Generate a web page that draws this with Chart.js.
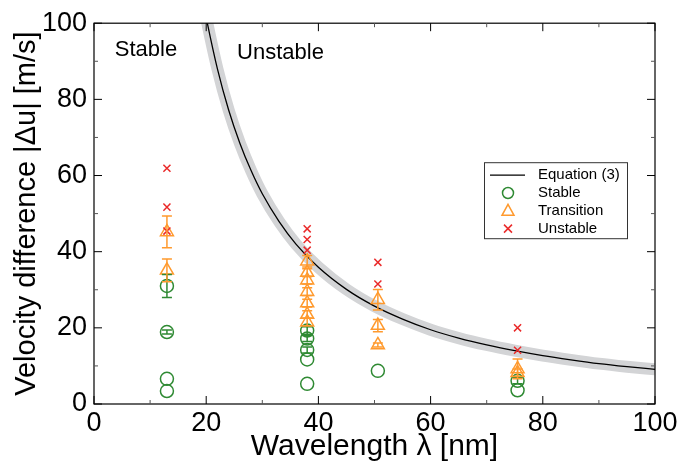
<!DOCTYPE html>
<html>
<head>
<meta charset="utf-8">
<script src="https://cdn.jsdelivr.net/npm/chart.js@4.4.1/dist/chart.umd.min.js"></script>
<style>
  html, body { margin: 0; padding: 0; background: #fff; }
</style>
</head>
<body>
<canvas id="chart" width="697" height="465"></canvas>
<script>
// Equation (3) curve
const curveX = [19.8, 20.2, 22, 24, 26, 28, 30, 33, 36, 40, 45, 50, 55, 60, 65, 70, 75, 80, 85, 90, 95, 100];
const curveY = [103, 100, 88, 77.2, 68.5, 61.3, 55.2, 47.9, 42, 35.9, 30.1, 25.7, 22.3, 19.5, 17.3, 15.5, 14, 12.7, 11.6, 10.6, 9.8, 9.1];

// Stable points
const stableX = [13, 13, 13, 13, 38, 38, 38, 38, 38, 50.6, 75.5, 75.5];
const stableY = [31, 18.9, 6.6, 3.4, 19.3, 17.2, 14.2, 11.7, 5.3, 8.7, 6.1, 3.6];
const stableErr = [3, 0.5, 0, 0, 1, 0.8, 0.8, 0, 0, 0, 0.8, 0];

// Transition points
const transX = [13, 13, 38, 38, 38, 38, 38, 38, 38, 50.6, 50.6, 50.6, 75.5, 75.5];
const transY = [45.2, 35.1, 37.5, 34.5, 32.5, 29.5, 26.5, 23.5, 21.5, 27.4, 20.6, 15.5, 9.2, 8.2];
const transErr = [4.2, 3, 1.5, 1, 1, 1, 1, 1, 1, 2.7, 1.6, 0.5, 2.6, 1];

// Unstable points
const unstX = [13, 13, 13, 38, 38, 38, 50.6, 50.6, 75.5, 75.5];
const unstY = [61.9, 51.7, 45.4, 46.0, 43.2, 40.4, 37.2, 31.5, 20.0, 14.1];

const FONT = "'Liberation Sans', Arial, sans-serif";
const GREEN = "#2f8a33";
const ORANGE = "#ff9a2e";
const RED = "#ea2a2a";

const pts = (xs, ys) => xs.map((x, i) => ({ x: x, y: ys[i] }));

// vertical error bars with caps
const errorBars = {
  id: "errorBars",
  afterDatasetsDraw(chart) {
    const { ctx, scales: { x, y } } = chart;
    ctx.save();
    chart.data.datasets.forEach(ds => {
      if (!ds.errors) return;
      ctx.strokeStyle = ds.borderColor;
      ctx.lineWidth = 1.5;
      ds.data.forEach((p, i) => {
        const e = ds.errors[i];
        if (!e) return;
        const px = x.getPixelForValue(p.x);
        const top = y.getPixelForValue(p.y + e);
        const bot = y.getPixelForValue(p.y - e);
        ctx.beginPath();
        ctx.moveTo(px, top); ctx.lineTo(px, bot);
        ctx.moveTo(px - 5, top); ctx.lineTo(px + 5, top);
        ctx.moveTo(px - 5, bot); ctx.lineTo(px + 5, bot);
        ctx.stroke();
      });
    });
    ctx.restore();
  }
};

// box frame with inward ticks on all four sides
const frame = {
  id: "frame",
  afterDraw(chart) {
    const { ctx, chartArea: a, scales: { x, y } } = chart;
    ctx.save();
    ctx.strokeStyle = "#000";
    ctx.lineWidth = 1.2;
    ctx.strokeRect(a.left, a.top, a.right - a.left, a.bottom - a.top);
    ctx.lineWidth = 1;
    for (let v = 0; v <= 100; v += 10) {
      const len = v % 20 === 0 ? 8 : 4;
      ctx.strokeStyle = v % 20 === 0 ? "#000" : "#555";
      const px = x.getPixelForValue(v);
      const py = y.getPixelForValue(v);
      ctx.beginPath();
      ctx.moveTo(px, a.bottom); ctx.lineTo(px, a.bottom - len);
      ctx.moveTo(px, a.top); ctx.lineTo(px, a.top + len);
      ctx.moveTo(a.left, py); ctx.lineTo(a.left + len, py);
      ctx.moveTo(a.right, py); ctx.lineTo(a.right - len, py);
      ctx.stroke();
    }
    ctx.restore();
  }
};

// region labels
const regionLabels = [
  { text: "Stable", x: 3.7, y: 93 },
  { text: "Unstable", x: 25.5, y: 92.2 }
];
const regions = {
  id: "regions",
  afterDraw(chart) {
    const { ctx, scales: { x, y } } = chart;
    ctx.save();
    ctx.fillStyle = "#000";
    ctx.font = "22px " + FONT;
    ctx.textBaseline = "middle";
    regionLabels.forEach(l => ctx.fillText(l.text, x.getPixelForValue(l.x), y.getPixelForValue(l.y)));
    ctx.restore();
  }
};

function drawMarker(ctx, style, cx, cy, color) {
  ctx.strokeStyle = color;
  ctx.lineWidth = 1.5;
  ctx.beginPath();
  if (style === "circle") {
    ctx.arc(cx, cy, 5.5, 0, Math.PI * 2);
  } else if (style === "triangle") {
    ctx.moveTo(cx, cy - 6.5); ctx.lineTo(cx + 6, cy + 4.5); ctx.lineTo(cx - 6, cy + 4.5); ctx.closePath();
  } else if (style === "crossRot") {
    ctx.moveTo(cx - 4, cy - 4); ctx.lineTo(cx + 4, cy + 4);
    ctx.moveTo(cx + 4, cy - 4); ctx.lineTo(cx - 4, cy + 4);
  }
  ctx.stroke();
}

// boxed legend inside the plot
const boxLegend = {
  id: "boxLegend",
  afterDraw(chart) {
    const { ctx, chartArea: a } = chart;
    const left = a.right - 171, top = a.top + 139, w = 143, h = 76;
    ctx.save();
    ctx.fillStyle = "#fff";
    ctx.fillRect(left, top, w, h);
    ctx.strokeStyle = "#333";
    ctx.lineWidth = 1;
    ctx.strokeRect(left + 0.5, top + 0.5, w, h);
    ctx.font = "15px " + FONT;
    ctx.textBaseline = "middle";
    const items = chart.data.datasets.filter(d => d.legendRank !== undefined)
      .sort((p, q) => p.legendRank - q.legendRank);
    items.forEach((d, i) => {
      const cy = top + 13 + i * 17.8;
      if (d.showLine) {
        ctx.strokeStyle = "#000";
        ctx.lineWidth = 1.2;
        ctx.beginPath(); ctx.moveTo(left + 6, cy); ctx.lineTo(left + 41, cy); ctx.stroke();
      } else {
        drawMarker(ctx, d.pointStyle, left + 24, cy, d.borderColor);
      }
      ctx.fillStyle = "#000";
      ctx.fillText(d.label, left + 54, cy);
    });
    ctx.restore();
  }
};

new Chart(document.getElementById("chart"), {
  type: "scatter",
  data: {
    datasets: [
      {
        label: "Equation (3)", data: pts(curveX, curveY), legendRank: 0, order: 3,
        showLine: true, borderColor: "#000", borderWidth: 1.3, pointRadius: 0,
        tension: 0.4, cubicInterpolationMode: "monotone"
      },
      {
        label: "Stable", data: pts(stableX, stableY), errors: stableErr, legendRank: 1, order: 2,
        pointStyle: "circle", pointRadius: 6.5, borderColor: GREEN, borderWidth: 1.5,
        backgroundColor: "transparent", showLine: false
      },
      {
        label: "Transition", data: pts(transX, transY), errors: transErr, legendRank: 2, order: 1,
        pointStyle: "triangle", pointRadius: 7.5, borderColor: ORANGE, borderWidth: 1.5,
        backgroundColor: "transparent", showLine: false
      },
      {
        label: "Unstable", data: pts(unstX, unstY), legendRank: 3, order: 0,
        pointStyle: "crossRot", pointRadius: 5, borderColor: RED, borderWidth: 1.5,
        backgroundColor: "transparent", showLine: false
      },
      {
        label: "band", data: pts(curveX, curveY), order: 4,
        showLine: true, borderColor: "#d3d4d6", borderWidth: 12, pointRadius: 0,
        tension: 0.4, cubicInterpolationMode: "monotone"
      }
    ]
  },
  options: {
    responsive: false,
    animation: false,
    layout: { padding: { left: 0, top: 13, right: 42, bottom: 0 } },
    plugins: { legend: { display: false }, tooltip: { enabled: false } },
    scales: {
      x: {
        type: "linear", min: 0, max: 100,
        grid: { display: false, drawTicks: false },
        border: { display: false },
        ticks: { stepSize: 20, color: "#000", padding: 3, font: { size: 27, family: FONT } },
        title: { display: true, text: "Wavelength λ [nm]", color: "#000", padding: { top: 0, bottom: 0 },
                 font: { size: 30, family: FONT } },
        afterFit: s => { s.height = 61; }
      },
      y: {
        type: "linear", min: 0, max: 100,
        grid: { display: false, drawTicks: false },
        border: { display: false },
        ticks: { stepSize: 20, color: "#000", padding: 7, font: { size: 27, family: FONT } },
        title: { display: true, text: "Velocity difference |Δu| [m/s]", color: "#000",
                 padding: { top: 10, bottom: 0 }, font: { size: 29, family: FONT } },
        afterFit: s => { s.width = 94; }
      }
    }
  },
  plugins: [errorBars, frame, regions, boxLegend]
});
</script>
</body>
</html>
